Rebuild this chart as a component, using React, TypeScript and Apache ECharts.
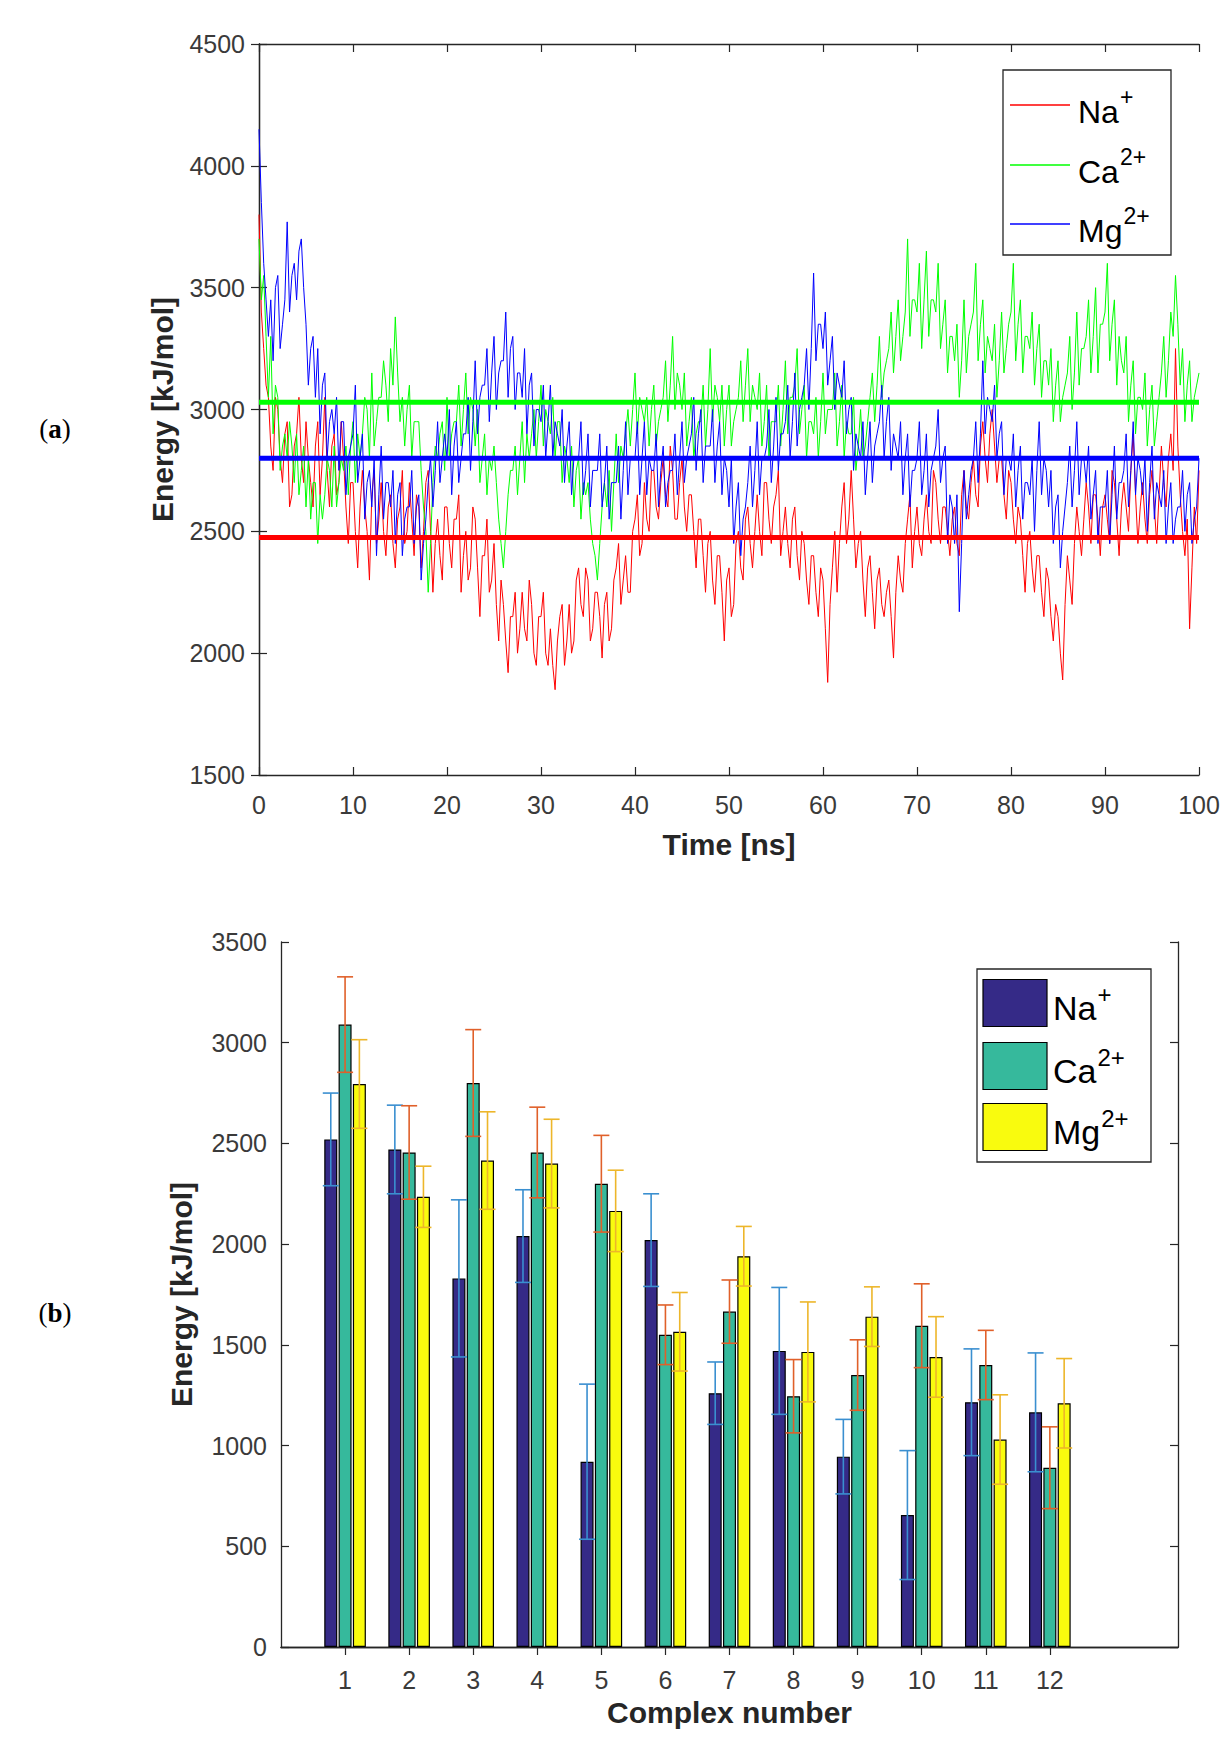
import React, { useEffect, useRef } from "react";
import * as echarts from "echarts";

// ---------- (a) energy traces, one value every 0.25 ns ----------
const TRACE_STEP_NS = 0.25;
const NA_TRACE = [
  3800, 3400, 3250, 3100, 3050, 2850, 2750, 3050, 3000, 2800, 2700, 2900, 2950, 2600, 2650, 2850, 2900, 3050, 2800, 2700,
  2950, 2800, 2700, 2600, 2850, 2950, 2650, 2800, 3050, 2750, 2600, 2850, 2900, 2650, 2700, 2950, 2800, 2600, 2450, 2700,
  2700, 2500, 2350, 2600, 2750, 2600, 2500, 2300, 2650, 2750, 2450, 2550, 2700, 2500, 2400, 2600, 2650, 2450, 2350, 2550,
  2600, 2750, 2450, 2500, 2700, 2550, 2400, 2650, 2600, 2350, 2500, 2700, 2750, 2500, 2250, 2450, 2550, 2400, 2300, 2600,
  2600, 2450, 2350, 2550, 2550, 2650, 2250, 2400, 2500, 2300, 2350, 2600, 2550, 2350, 2150, 2400, 2400, 2550, 2250, 2300,
  2450, 2200, 2050, 2300, 2200, 2050, 1920, 2150, 2150, 2250, 2000, 2100, 2250, 2100, 2050, 2300, 2200, 2000, 1950, 2150,
  2150, 2250, 2000, 1950, 2100, 1950, 1850, 2050, 2150, 2200, 1950, 2050, 2200, 2000, 2050, 2300, 2350, 2200, 2150, 2350,
  2300, 2050, 2100, 2250, 2250, 2150, 1980, 2200, 2250, 2050, 2100, 2300, 2350, 2450, 2200, 2300, 2400, 2250, 2250, 2500,
  2550, 2650, 2400, 2450, 2700, 2550, 2500, 2750, 2750, 2600, 2550, 2700, 2800, 2650, 2600, 2850, 2750, 2550, 2550, 2700,
  2800, 2600, 2500, 2650, 2650, 2500, 2350, 2550, 2550, 2400, 2250, 2450, 2500, 2300, 2200, 2400, 2400, 2250, 2050, 2300,
  2350, 2150, 2200, 2450, 2500, 2350, 2300, 2550, 2600, 2450, 2350, 2500, 2650, 2500, 2400, 2700, 2700, 2550, 2450, 2600,
  2650, 2750, 2400, 2500, 2600, 2450, 2350, 2550, 2600, 2400, 2300, 2500, 2450, 2300, 2200, 2400, 2400, 2250, 2150, 2350,
  2300, 2100, 1880, 2200, 2350, 2500, 2250, 2450, 2600, 2700, 2450, 2550, 2750, 2550, 2350, 2450, 2500, 2300, 2150, 2350,
  2400, 2250, 2100, 2300, 2350, 2200, 2150, 2250, 2300, 2150, 1980, 2250, 2400, 2300, 2250, 2450, 2550, 2650, 2350, 2500,
  2600, 2450, 2400, 2550, 2650, 2500, 2450, 2750, 2700, 2550, 2450, 2600, 2600, 2500, 2400, 2550, 2600, 2450, 2400, 2650,
  2750, 2600, 2550, 2700, 2800, 2650, 2600, 2850, 2950, 2800, 2700, 2900, 3000, 2850, 2700, 2800, 2800, 2650, 2550, 2750,
  2700, 2550, 2450, 2600, 2550, 2400, 2250, 2450, 2500, 2350, 2250, 2400, 2400, 2250, 2150, 2350, 2300, 2150, 2050, 2200,
  2150, 2000, 1890, 2200, 2400, 2300, 2200, 2450, 2600, 2500, 2400, 2550, 2700, 2600, 2450, 2650, 2650, 2550, 2400, 2600,
  2650, 2550, 2450, 2750, 2700, 2550, 2400, 2600, 2700, 2600, 2500, 2750, 2900, 2650, 2450, 2600, 2700, 2550, 2450, 2650,
  2750, 2600, 2450, 2650, 2850, 2700, 2600, 2800, 2900, 2750, 3250, 2850, 2650, 2500, 2400, 2550, 2100, 2350, 2600, 2450,
  2750,
];
const CA_TRACE = [
  3700, 3450, 3550, 3300, 3050, 3300, 2900, 3100, 3050, 2750, 2850, 2900, 2800, 2950, 2850, 2700, 2900, 2650, 2750, 2850,
  2600, 2800, 2550, 2700, 2700, 2450, 2650, 2550, 2650, 2800, 2750, 2600, 2850, 2600, 2700, 2800, 2750, 2850, 2650, 2850,
  2950, 2700, 2900, 2800, 2900, 3050, 3000, 2800, 3150, 2850, 2950, 3050, 3050, 3200, 3100, 2950, 3250, 3100, 3380, 3150,
  2950, 3050, 2850, 3000, 3100, 2800, 2950, 2950, 2950, 2750, 2600, 2500, 2250, 2450, 2700, 2850, 2800, 2900, 2950, 2750,
  3050, 2800, 2900, 2950, 2950, 3100, 2850, 3000, 3150, 2900, 3050, 3000, 2850, 3000, 2700, 2800, 2900, 2650, 2800, 2750,
  2850, 2700, 2550, 2450, 2350, 2500, 2650, 2750, 2750, 2850, 2650, 2800, 2950, 2700, 2900, 2800, 2900, 3000, 2800, 2950,
  3100, 2850, 3000, 2950, 2900, 3050, 2800, 2950, 2950, 2700, 2850, 2800, 2700, 2850, 2600, 2750, 2800, 2550, 2700, 2650,
  2700, 2550, 2450, 2400, 2300, 2450, 2600, 2700, 2600, 2750, 2500, 2700, 2900, 2700, 2850, 2800, 2900, 3000, 2850, 3000,
  3150, 2900, 3050, 3000, 2950, 3050, 2850, 3000, 3100, 2850, 2950, 3000, 3050, 3200, 2950, 3100, 3300, 3000, 3150, 3100,
  3000, 3150, 2850, 2950, 3050, 2800, 2900, 2950, 2950, 3100, 2850, 3000, 3250, 2950, 3100, 3050, 2950, 3100, 2850, 3000,
  3100, 2850, 2950, 3000, 3050, 3200, 2950, 3100, 3250, 2950, 3100, 3050, 3000, 3150, 2850, 2950, 3100, 2800, 2950, 2950,
  2950, 3100, 2850, 3000, 3200, 2900, 3050, 3050, 3100, 3250, 2900, 3000, 3100, 2800, 2950, 2950, 2900, 3050, 2800, 2950,
  3150, 2900, 3000, 3000, 3000, 3150, 2850, 2950, 3100, 2800, 2950, 2900, 2900, 3050, 2750, 2850, 3000, 2800, 2850, 2950,
  3050, 3150, 2950, 3100, 3300, 3050, 3150, 3200, 3250, 3400, 3150, 3300, 3450, 3200, 3300, 3400, 3700, 3300, 3450, 3450,
  3400, 3600, 3250, 3450, 3650, 3300, 3450, 3450, 3400, 3600, 3250, 3350, 3450, 3150, 3300, 3300, 3200, 3350, 3050, 3200,
  3450, 3150, 3300, 3350, 3400, 3600, 3200, 3350, 3450, 3150, 3300, 3250, 3200, 3350, 3050, 3200, 3400, 3150, 3250, 3350,
  3400, 3600, 3200, 3350, 3450, 3150, 3300, 3300, 3250, 3400, 3100, 3250, 3350, 3050, 3200, 3200, 3100, 3250, 2950, 3100,
  3200, 2950, 3050, 3100, 3150, 3300, 3000, 3150, 3400, 3100, 3250, 3250, 3300, 3450, 3150, 3300, 3500, 3150, 3350, 3350,
  3400, 3600, 3200, 3350, 3450, 3100, 3300, 3200, 3150, 3300, 2950, 3100, 3200, 2900, 3050, 3050, 3000, 3150, 2850, 3000,
  3100, 2850, 2950, 3050, 3150, 3300, 3050, 3200, 3400, 3300, 3550, 3350, 3100, 3250, 2950, 3100, 3200, 2950, 3050, 3100,
  3150,
];
const MG_TRACE = [
  4150, 3850, 3600, 3450, 3300, 3450, 3200, 3500, 3550, 3250, 3350, 3450, 3770, 3400, 3550, 3600, 3450, 3650, 3700, 3500,
  3350, 3100, 3250, 3300, 3050, 3250, 2900, 3100, 3150, 2800, 2950, 3000, 2900, 3050, 2750, 2950, 2950, 2650, 2800, 2850,
  2900, 3100, 2700, 2800, 2900, 2550, 2700, 2750, 2600, 2800, 2400, 2650, 2850, 2550, 2700, 2700, 2600, 2750, 2450, 2650,
  2700, 2400, 2550, 2600, 2600, 2750, 2450, 2600, 2650, 2300, 2450, 2550, 2700, 2800, 2600, 2750, 2950, 2700, 2800, 2900,
  2800, 3000, 2650, 2850, 2950, 2700, 2800, 2900, 2900, 3050, 2750, 2950, 3200, 2900, 3050, 3100, 3100, 3250, 2950, 3150,
  3300, 3000, 3150, 3200, 3200, 3400, 3050, 3250, 3300, 3000, 3150, 3150, 3050, 3250, 2900, 3100, 3150, 2850, 3000, 3000,
  2950, 3100, 2800, 2950, 3100, 2800, 2950, 2900, 2850, 3000, 2700, 2850, 2950, 2650, 2800, 2800, 2800, 2950, 2650, 2750,
  2900, 2600, 2750, 2750, 2750, 2900, 2600, 2700, 2850, 2550, 2700, 2700, 2700, 2850, 2550, 2750, 2950, 2650, 2800, 2800,
  2800, 2950, 2650, 2800, 2950, 2650, 2800, 2750, 2750, 2900, 2600, 2750, 2850, 2600, 2700, 2750, 2750, 2900, 2650, 2800,
  2950, 2700, 2800, 2850, 2900, 3050, 2750, 2900, 3000, 2700, 2850, 2850, 2850, 3000, 2700, 2850, 2950, 2650, 2800, 2750,
  2600, 2800, 2450, 2600, 2700, 2400, 2550, 2600, 2700, 2850, 2600, 2750, 2950, 2650, 2800, 2800, 2850, 3000, 2700, 2850,
  3050, 2750, 2900, 2900, 2950, 3100, 2800, 2950, 3150, 2850, 3000, 3050, 3100, 3250, 3000, 3250, 3560, 3200, 3350, 3350,
  3250, 3400, 3100, 3200, 3300, 3000, 3150, 3100, 3050, 3200, 2900, 3000, 3050, 2750, 2900, 2850, 2800, 2950, 2650, 2800,
  2950, 2700, 2850, 2900, 2950, 3100, 2800, 2950, 3050, 2750, 2900, 2850, 2800, 2950, 2650, 2800, 2900, 2600, 2750, 2750,
  2800, 2950, 2650, 2750, 2900, 2600, 2750, 2800, 2850, 3000, 2700, 2800, 2850, 2450, 2650, 2600, 2450, 2650, 2170, 2450,
  2750, 2550, 2650, 2750, 2800, 2950, 2700, 2900, 3200, 2900, 3050, 3000, 2950, 3100, 2800, 2900, 2950, 2650, 2800, 2800,
  2750, 2900, 2600, 2750, 2850, 2550, 2700, 2700, 2650, 2800, 2500, 2750, 2950, 2650, 2800, 2750, 2600, 2750, 2450, 2600,
  2650, 2350, 2500, 2600, 2700, 2850, 2600, 2750, 2950, 2650, 2800, 2800, 2700, 2850, 2550, 2650, 2750, 2450, 2600, 2600,
  2600, 2750, 2450, 2650, 2850, 2550, 2700, 2700, 2750, 2900, 2600, 2750, 2950, 2650, 2800, 2750, 2650, 2800, 2500, 2700,
  2850, 2550, 2700, 2650, 2600, 2750, 2450, 2600, 2700, 2450, 2550, 2600, 2600, 2750, 2500, 2650, 2700, 2450, 2550, 2600,
  2800,
];
const NA_MEAN = 2475;
const CA_MEAN = 3030;
const MG_MEAN = 2800;

// ---------- (b) bar chart ----------
const COMPLEX_NUMBERS = ["1", "2", "3", "4", "5", "6", "7", "8", "9", "10", "11", "12"];
const NA_BAR = [2520, 2470, 1830, 2040, 920, 2020, 1260, 1470, 945, 655, 1215, 1165];
const NA_ERR = [230, 220, 390, 230, 385, 230, 155, 315, 185, 320, 265, 295];
const CA_BAR = [3090, 2455, 2800, 2455, 2300, 1550, 1665, 1245, 1350, 1595, 1400, 890];
const CA_ERR = [237, 232, 265, 225, 240, 148, 157, 182, 175, 208, 172, 203];
const MG_BAR = [2795, 2235, 2415, 2400, 2165, 1565, 1940, 1465, 1640, 1440, 1030, 1210];
const MG_ERR = [220, 152, 242, 220, 202, 195, 148, 248, 148, 200, 222, 222];

const FONT = '"Liberation Sans", Arial, sans-serif';
const SERIF = '"Liberation Serif", "Times New Roman", serif';
const AXIS_COLOR = "#262626";
const LABEL_COLOR = "#3a3a3a";

function measure(text: string, size: number): number {
  const ctx = document.createElement("canvas").getContext("2d");
  if (!ctx) return text.length * size * 0.6;
  ctx.font = `${size}px ${FONT}`;
  return ctx.measureText(text).width;
}

export default function App() {
  const ref = useRef<HTMLDivElement>(null);

  useEffect(() => {
    document.body.style.margin = "0";
    if (!ref.current) return;
    const chart = echarts.init(ref.current, undefined, { renderer: "svg" });

    const times = NA_TRACE.map((_, i) => i * TRACE_STEP_NS);
    const tMax = times[times.length - 1];

    // category axis for (b): 0..14 with bars at 1..12
    const cats = ["0", ...COMPLEX_NUMBERS, "13", "14"];
    const shown = (i: number) => i >= 1 && i <= 12;
    const pad = (arr: number[]) => [null, ...arr, null, null];

    const BAR_W = 13;
    const BAR_GAP = 0.1;
    const step = BAR_W * (1 + BAR_GAP);

    const errSeries = (name: string, means: number[], errs: number[], offset: number, color: string) => ({
      type: "custom",
      name,
      xAxisIndex: 2,
      yAxisIndex: 2,
      z: 10,
      data: means.map((m, i) => [i + 1, m, errs[i]]),
      renderItem: (params: any, api: any) => {
        const x = api.value(0);
        const m = api.value(1);
        const e = api.value(2);
        const top = api.coord([x, m + e]);
        const bot = api.coord([x, m - e]);
        const cx = top[0] + offset;
        const st = { stroke: color, lineWidth: 1.6 };
        return {
          type: "group",
          children: [
            { type: "line", shape: { x1: cx, y1: top[1], x2: cx, y2: bot[1] }, style: st },
            { type: "line", shape: { x1: cx - 8, y1: top[1], x2: cx + 8, y2: top[1] }, style: st },
            { type: "line", shape: { x1: cx - 8, y1: bot[1], x2: cx + 8, y2: bot[1] }, style: st },
          ],
        };
      },
    });

    const tickStyle = { show: true, inside: true, length: 8, lineStyle: { color: AXIS_COLOR, width: 1.2 } };
    const lineStyle = { show: true, lineStyle: { color: AXIS_COLOR, width: 1.3 } };
    const plain = (v: number) => String(v);
    const labelStyle = { color: LABEL_COLOR, fontSize: 25, fontFamily: FONT };
    const nameStyle = { color: AXIS_COLOR, fontSize: 30, fontWeight: "bold", fontFamily: FONT };

    const supText = (main: string, sup: string, x: number, yc: number, size: number, supSize: number, up: number, down: number) => [
      {
        type: "text",
        style: { text: main, x, y: yc + down, fontSize: size, fontFamily: FONT, fill: "#000", verticalAlign: "middle", align: "left" },
      },
      {
        type: "text",
        style: {
          text: sup,
          x: x + measure(main, size) + 1,
          y: yc - up,
          fontSize: supSize,
          fontFamily: FONT,
          fill: "#000",
          verticalAlign: "middle",
          align: "left",
        },
      },
    ];

    const legendA = [
      { label: ["Na", "+"], color: "#FF0000", y: 105 },
      { label: ["Ca", "2+"], color: "#00FF00", y: 165 },
      { label: ["Mg", "2+"], color: "#0000FF", y: 224 },
    ];
    const legendB = [
      { label: ["Na", "+"], color: "#352A87", y: 1003 },
      { label: ["Ca", "2+"], color: "#36B99C", y: 1066 },
      { label: ["Mg", "2+"], color: "#F9FB0E", y: 1127 },
    ];

    const panelLabel = (letter: string, y: number) => ({
      type: "text",
      style: {
        text: `({b|${letter}})`,
        x: 55,
        y,
        align: "center",
        verticalAlign: "middle",
        fontSize: 27,
        fontFamily: SERIF,
        fill: "#000",
        rich: { b: { fontSize: 27, fontFamily: SERIF, fontWeight: "bold" } },
      },
    });

    const graphic: any[] = [
      {
        type: "group",
        z: 100,
        children: [
          { type: "rect", shape: { x: 1003, y: 70, width: 168, height: 185 }, style: { fill: "#fff", stroke: AXIS_COLOR, lineWidth: 1.3 } },
          ...legendA.flatMap((it) => [
            { type: "line", shape: { x1: 1010, y1: it.y, x2: 1070, y2: it.y }, style: { stroke: it.color, lineWidth: 1.3 } },
            ...supText(it.label[0], it.label[1], 1078, it.y, 32, 23, 8, 7),
          ]),
        ],
      },
      {
        type: "group",
        z: 100,
        children: [
          { type: "rect", shape: { x: 977, y: 969, width: 174, height: 193 }, style: { fill: "#fff", stroke: AXIS_COLOR, lineWidth: 1.3 } },
          ...legendB.flatMap((it) => [
            { type: "rect", shape: { x: 983, y: it.y - 23.5, width: 64, height: 47 }, style: { fill: it.color, stroke: "#000", lineWidth: 1.2 } },
            ...supText(it.label[0], it.label[1], 1053, it.y, 34, 24, 9, 5),
          ]),
        ],
      },
      panelLabel("a", 429),
      panelLabel("b", 1313),
    ];

    const traceLine = (name: string, data: number[], color: string) => ({
      type: "line",
      name,
      xAxisIndex: 0,
      yAxisIndex: 0,
      showSymbol: false,
      symbol: "none",
      data: data.map((v, i) => [times[i], v]),
      lineStyle: { color, width: 1 },
      itemStyle: { color },
      z: 2,
    });
    const meanLine = (name: string, v: number, color: string) => ({
      type: "line",
      name,
      xAxisIndex: 0,
      yAxisIndex: 0,
      showSymbol: false,
      symbol: "none",
      data: [
        [0, v],
        [tMax, v],
      ],
      lineStyle: { color, width: 5 },
      itemStyle: { color },
      z: 3,
    });

    const bar = (name: string, data: number[], color: string) => ({
      type: "bar",
      name,
      xAxisIndex: 2,
      yAxisIndex: 2,
      data: pad(data),
      barWidth: BAR_W,
      barGap: `${BAR_GAP * 100}%`,
      itemStyle: { color, borderColor: "#000", borderWidth: 1.2 },
    });

    chart.setOption({
      animation: false,
      backgroundColor: "#fff",
      textStyle: { fontFamily: FONT },
      grid: [
        { left: 259, top: 44, width: 940, height: 731, containLabel: false },
        { left: 281, top: 942, width: 897, height: 705, containLabel: false },
      ],
      xAxis: [
        {
          type: "value",
          gridIndex: 0,
          min: 0,
          max: 100,
          interval: 10,
          position: "bottom",
          axisLine: lineStyle,
          axisTick: tickStyle,
          splitLine: { show: false },
          axisLabel: { ...labelStyle, margin: 17, formatter: plain },
          name: "Time [ns]",
          nameLocation: "middle",
          nameGap: 54,
          nameTextStyle: nameStyle,
        },
        {
          type: "value",
          gridIndex: 0,
          min: 0,
          max: 100,
          interval: 10,
          position: "top",
          axisLine: lineStyle,
          axisTick: tickStyle,
          splitLine: { show: false },
          axisLabel: { show: false },
        },
        {
          type: "category",
          gridIndex: 1,
          data: cats,
          boundaryGap: false,
          position: "bottom",
          axisLine: lineStyle,
          axisTick: { ...tickStyle, interval: (i: number) => shown(i) },
          splitLine: { show: false },
          axisLabel: { ...labelStyle, margin: 20, interval: (i: number) => shown(i) },
          name: "Complex number",
          nameLocation: "middle",
          nameGap: 50,
          nameTextStyle: nameStyle,
        },
        {
          type: "category",
          gridIndex: 1,
          data: cats,
          boundaryGap: false,
          position: "top",
          axisLine: lineStyle,
          axisTick: { ...tickStyle, interval: (i: number) => shown(i) },
          splitLine: { show: false },
          axisLabel: { show: false },
        },
      ],
      yAxis: [
        {
          type: "value",
          gridIndex: 0,
          min: 1500,
          max: 4500,
          interval: 500,
          position: "left",
          axisLine: lineStyle,
          axisTick: tickStyle,
          splitLine: { show: false },
          axisLabel: { ...labelStyle, margin: 14, formatter: plain },
          name: "Energy [kJ/mol]",
          nameLocation: "middle",
          nameGap: 82,
          nameTextStyle: nameStyle,
        },
        {
          type: "value",
          gridIndex: 0,
          min: 1500,
          max: 4500,
          interval: 500,
          position: "right",
          axisLine: lineStyle,
          axisTick: tickStyle,
          splitLine: { show: false },
          axisLabel: { show: false },
        },
        {
          type: "value",
          gridIndex: 1,
          min: 0,
          max: 3500,
          interval: 500,
          position: "left",
          axisLine: lineStyle,
          axisTick: tickStyle,
          splitLine: { show: false },
          axisLabel: { ...labelStyle, margin: 14, formatter: plain },
          name: "Energy [kJ/mol]",
          nameLocation: "middle",
          nameGap: 85,
          nameTextStyle: nameStyle,
        },
        {
          type: "value",
          gridIndex: 1,
          min: 0,
          max: 3500,
          interval: 500,
          position: "right",
          axisLine: lineStyle,
          axisTick: tickStyle,
          splitLine: { show: false },
          axisLabel: { show: false },
        },
      ],
      series: [
        traceLine("Na+", NA_TRACE, "#FF0000"),
        traceLine("Ca2+", CA_TRACE, "#00FF00"),
        traceLine("Mg2+", MG_TRACE, "#0000FF"),
        meanLine("Na+ mean", NA_MEAN, "#FF0000"),
        meanLine("Ca2+ mean", CA_MEAN, "#00FF00"),
        meanLine("Mg2+ mean", MG_MEAN, "#0000FF"),
        bar("Na+ bar", NA_BAR, "#352A87"),
        bar("Ca2+ bar", CA_BAR, "#36B99C"),
        bar("Mg2+ bar", MG_BAR, "#F9FB0E"),
        errSeries("Na+ err", NA_BAR, NA_ERR, -step, "#3A8FD0"),
        errSeries("Ca2+ err", CA_BAR, CA_ERR, 0, "#E0602A"),
        errSeries("Mg2+ err", MG_BAR, MG_ERR, step, "#EDB62A"),
      ],
      graphic,
    });

    return () => chart.dispose();
  }, []);

  return <div ref={ref} style={{ width: 1232, height: 1756 }} />;
}
